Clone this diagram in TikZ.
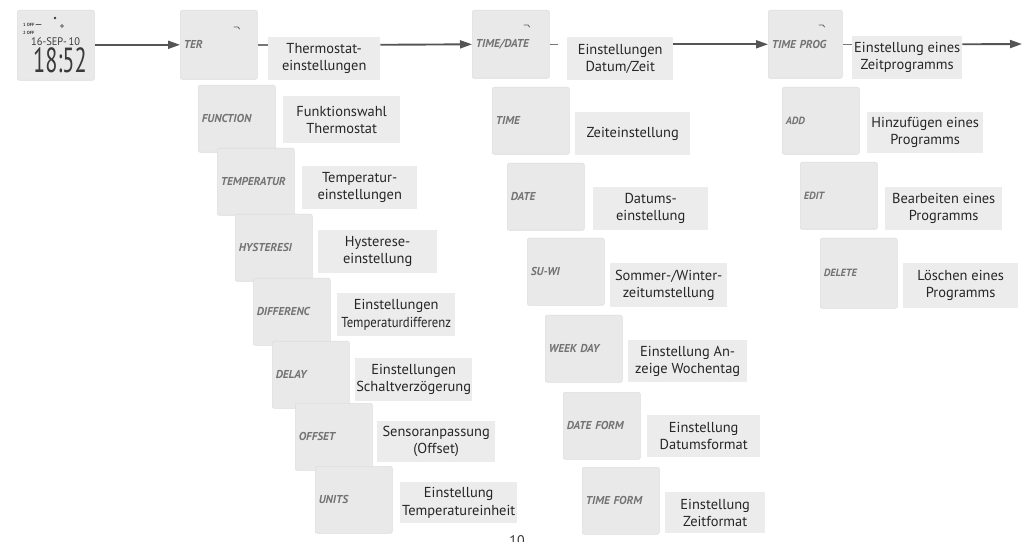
\documentclass[tikz,border=0pt]{standalone}
\usepackage{fontspec}
\setmainfont{PT Sans}
\usetikzlibrary{arrows.meta}

\definecolor{lcdfill}{HTML}{E9E9E9}
\definecolor{lcdedge}{HTML}{DEDEDE}
\definecolor{tagfill}{HTML}{ECECEC}
\definecolor{lcdink}{HTML}{737373}
\definecolor{digitink}{HTML}{3A3A3A}
\definecolor{flowline}{HTML}{555555}

\tikzset{
  lcd/.style={draw=lcdedge, line width=0.6bp, fill=lcdfill, rounded corners=2bp,
    anchor=north west, minimum height=67bp, text width=70bp, inner xsep=3.5bp,
    align=left, text=lcdink, font=\fontsize{11.5}{12}\selectfont\bfseries\itshape},
  lcdsmall/.style={font=\fontsize{10.5}{11}\selectfont\bfseries\itshape},
  tag/.style={fill=tagfill, anchor=north west, align=center, inner sep=0pt,
    minimum height=43bp, text=black!85, font=\fontsize{14.5}{17.5}\selectfont},
  flow/.style={draw=flowline, line width=1.9bp, -{Triangle[length=12bp,width=8bp]}},
  link/.style={draw=flowline!80, line width=1.5bp},
  icon/.style={draw=lcdink!80!black, line width=0.8bp, line cap=round},
  tiny/.style={inner sep=0pt, anchor=west, text=digitink, font=\fontsize{4.5}{5}\selectfont\bfseries}
}

\begin{document}
\begin{tikzpicture}[x=1bp, y=-1bp]
\useasboundingbox[fill=white] (0,0) rectangle (1029,542);

% ---------- top row: main menu ----------
\node[lcd, minimum height=70bp] (clock) at (17,10) {};
\node[tiny] (off1) at ([shift={(6,15)}]clock.north west) {1 OFF};
\node[tiny] (off2) at ([shift={(6,23)}]clock.north west) {2 OFF};
\draw[icon, line width=1bp] ([shift={(19,15)}]clock.north west) -- ++(5,0);
\draw[icon, line width=0.6bp] ([shift={(45,16)}]clock.north west) circle (1.4);
\fill[digitink] ([shift={(38,8)}]clock.north west) circle (1.3);
\node[inner sep=0pt, anchor=base west, text=digitink] (cdate) at ([shift={(14,36)}]clock.north west)
  {\scalebox{0.95}[1]{\fontsize{11}{11}\selectfont 16-SEP-\,10}};
\node[inner sep=0pt, anchor=base west, text=digitink] (ctime) at ([shift={(16,63)}]clock.north west)
  {\scalebox{0.64}[1]{\fontsize{35}{35}\selectfont 18:52}};

\node[lcd, minimum height=69bp] (ter) at (180,10) {TER};
\draw[icon] ([shift={(54,17)}]ter.north west) -- ++(4,0) -- ++(1.5,2);

\node[tag, minimum width=112bp] (lter) at (268,37) {Thermostat-\\einstellungen};

\node[lcd, minimum height=68bp] (tdate) at (472,10) {TIME/DATE};
\draw[icon] ([shift={(52,15)}]tdate.north west) -- ++(4,0) -- ++(1.5,2);

\node[tag, minimum width=106bp] (ldate) at (567,37) {Einstellungen\\Datum/Zeit};

\node[lcd, minimum height=68bp, text width=67bp] (tprog) at (768,10) {TIME PROG};
\draw[icon] ([shift={(51,15)}]tprog.north west) -- ++(4,0) -- ++(1.5,2);

\node[tag, minimum width=110bp] (lprog) at (852,36) {Einstellung eines\\Zeitprogramms};

\coordinate (more) at (1022,44);

\draw[flow] (clock.east |- ter.west) -- (ter.west);
\draw[link] (ter.east) -- (lter.west |- ter.east);
\draw[flow] (lter.east |- ter.east) -- (tdate.west);
\draw[link] (tdate.east) -- ++(8,0);
\draw[flow] (ldate.east |- tdate.east) -- (tprog.west);
\draw[link] (tprog.east) -- (lprog.west |- tprog.east);
\draw[flow] (lprog.east |- tprog.east) -- (more);

% ---------- thermostat settings ----------
\node[lcd] (f1) at (198,85)  {FUNCTION};
\node[tag, minimum width=117bp, minimum height=47bp] (g1) at (283,96) {Funktionswahl\\Thermostat};
\node[lcd] (f2) at (217,148) {TEMPERATUR};
\node[tag, minimum width=115bp] (g2) at (302,166) {Temperatur-\\einstellungen};
\node[lcd] (f3) at (235,214) {HYSTERESI};
\node[tag, minimum width=119bp] (g3) at (318,230) {Hysterese-\\einstellung};
\node[lcd] (f4) at (253,278) {DIFFERENC};
\node[tag, minimum width=118bp] (g4) at (337,293)
  {Einstellungen\\\scalebox{0.88}[1]{Temperaturdifferenz}};
\node[lcd] (f5) at (272,341) {DELAY};
\node[tag, minimum width=117bp] (g5) at (355,358) {Einstellungen\\Schaltverzögerung};
\node[lcd] (f6) at (295,403) {OFFSET};
\node[tag, minimum width=118bp, minimum height=41bp] (g6) at (377,421) {Sensoranpassung\\(Offset)};
\node[lcd] (f7) at (315,466) {UNITS};
\node[tag, minimum width=117bp, minimum height=41bp] (g7) at (400,482) {Einstellung\\Temperatureinheit};

% ---------- date and time settings ----------
\node[lcd] (d1) at (492,87)  {TIME};
\node[tag, minimum width=115bp] (e1) at (575,112) {Zeiteinstellung};
\node[lcd] (d2) at (507,163) {DATE};
\node[tag, minimum width=115bp] (e2) at (593,187) {Datums-\\einstellung};
\node[lcd] (d3) at (527,238) {SU-WI};
\node[tag, minimum width=117bp, minimum height=44bp] (e3) at (610,263) {Sommer-/Winter-\\zeitumstellung};
\node[lcd] (d4) at (545,315) {WEEK DAY};
\node[tag, minimum width=119bp, minimum height=42bp] (e4) at (628,340) {Einstellung An-\\zeige Wochentag};
\node[lcd] (d5) at (563,392) {DATE FORM};
\node[tag, minimum width=113bp, minimum height=42bp] (e5) at (647,415) {Einstellung\\Datumsformat};
\node[lcd] (d6) at (582,467) {TIME FORM};
\node[tag, minimum width=100bp, minimum height=41bp] (e6) at (665,492) {Einstellung\\Zeitformat};

% ---------- time programme settings ----------
\node[lcd, lcdsmall] (p1) at (782,87)  {ADD};
\node[tag, minimum width=116bp, minimum height=41bp] (q1) at (867,112) {Hinzufügen eines\\Programms};
\node[lcd, lcdsmall] (p2) at (800,162) {EDIT};
\node[tag, minimum width=117bp] (q2) at (885,187) {Bearbeiten eines\\Programms};
\node[lcd, lcdsmall, minimum height=70bp] (p3) at (820,238) {DELETE};
\node[tag, minimum width=115bp, minimum height=45bp] (q3) at (903,263) {Löschen eines\\Programms};

% page number, cut by the lower edge
\node[anchor=north, inner sep=0pt, text=black!80, font=\fontsize{14}{17}\selectfont] (page) at (517,535) {10};
\end{tikzpicture}
\end{document}
